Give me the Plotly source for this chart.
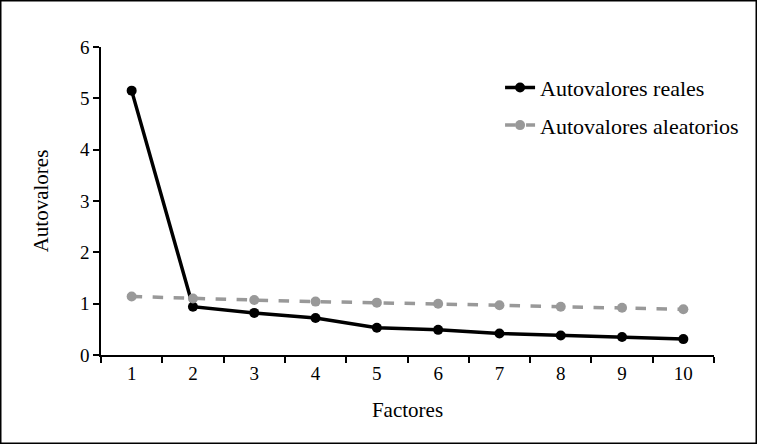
import plotly.graph_objects as go

factores = ["1", "2", "3", "4", "5", "6", "7", "8", "9", "10"]
reales = [5.15, 0.94, 0.82, 0.72, 0.53, 0.49, 0.42, 0.38, 0.35, 0.31]
aleatorios = [1.14, 1.10, 1.07, 1.04, 1.02, 1.00, 0.97, 0.94, 0.92, 0.89]

FONT = "Liberation Serif, Times New Roman, serif"

fig = go.Figure()
fig.add_trace(go.Scatter(
    x=factores, y=reales, name="Autovalores reales", mode="lines+markers",
    legendgroup="a",
    line=dict(color="black", width=3.5), marker=dict(color="black", size=10),
))
fig.add_trace(go.Scatter(
    x=factores, y=aleatorios, name="Autovalores aleatorios", mode="lines+markers",
    legendgroup="b",
    line=dict(color="#999999", width=3.5, dash="dash"), marker=dict(color="#999999", size=10),
))

W, H = 757, 444
L, R, T, B = 101, 43, 47, 89
pw, ph = W - L - R, H - T - B

fig.update_layout(
    width=W, height=H,
    margin=dict(l=L, r=R, t=T, b=B),
    paper_bgcolor="white", plot_bgcolor="white",
    font=dict(family=FONT, size=19, color="black"),
    showlegend=True,
    legend=dict(x=0.651, y=0.936, xanchor="left", yanchor="top",
                font=dict(family=FONT, size=22, color="black"),
                bgcolor="rgba(0,0,0,0)", tracegroupgap=6),
    xaxis=dict(
        type="category", tickson="boundaries", range=[-0.5, 9.5],
        showline=True, linecolor="black", linewidth=1.5,
        ticks="outside", ticklen=6, tickcolor="black", tickwidth=1.5,
        showgrid=False, zeroline=False,
        tickfont=dict(family=FONT, size=19),
        title=dict(text="Factores", font=dict(family=FONT, size=21), standoff=20),
    ),
    yaxis=dict(
        range=[0, 6], dtick=1, tick0=0,
        showline=True, linecolor="black", linewidth=1.5,
        ticks="outside", ticklen=6, tickcolor="black", tickwidth=1.5,
        showgrid=False, zeroline=False,
        tickfont=dict(family=FONT, size=19),
        title=dict(text="Autovalores", font=dict(family=FONT, size=21), standoff=26),
    ),
    shapes=[dict(
        type="rect", xref="paper", yref="paper",
        x0=(0.75 - L) / pw, x1=(W - 0.75 - L) / pw,
        y0=-(B - 0.75) / ph,
        y1=1 + (T - 0.75) / ph,
        line=dict(color="black", width=1.5), fillcolor="rgba(0,0,0,0)",
    )],
)

fig.write_html(
    "out.html",
    config={"displayModeBar": False},
    post_script="document.body.style.margin='0';document.body.style.padding='0';",
)
